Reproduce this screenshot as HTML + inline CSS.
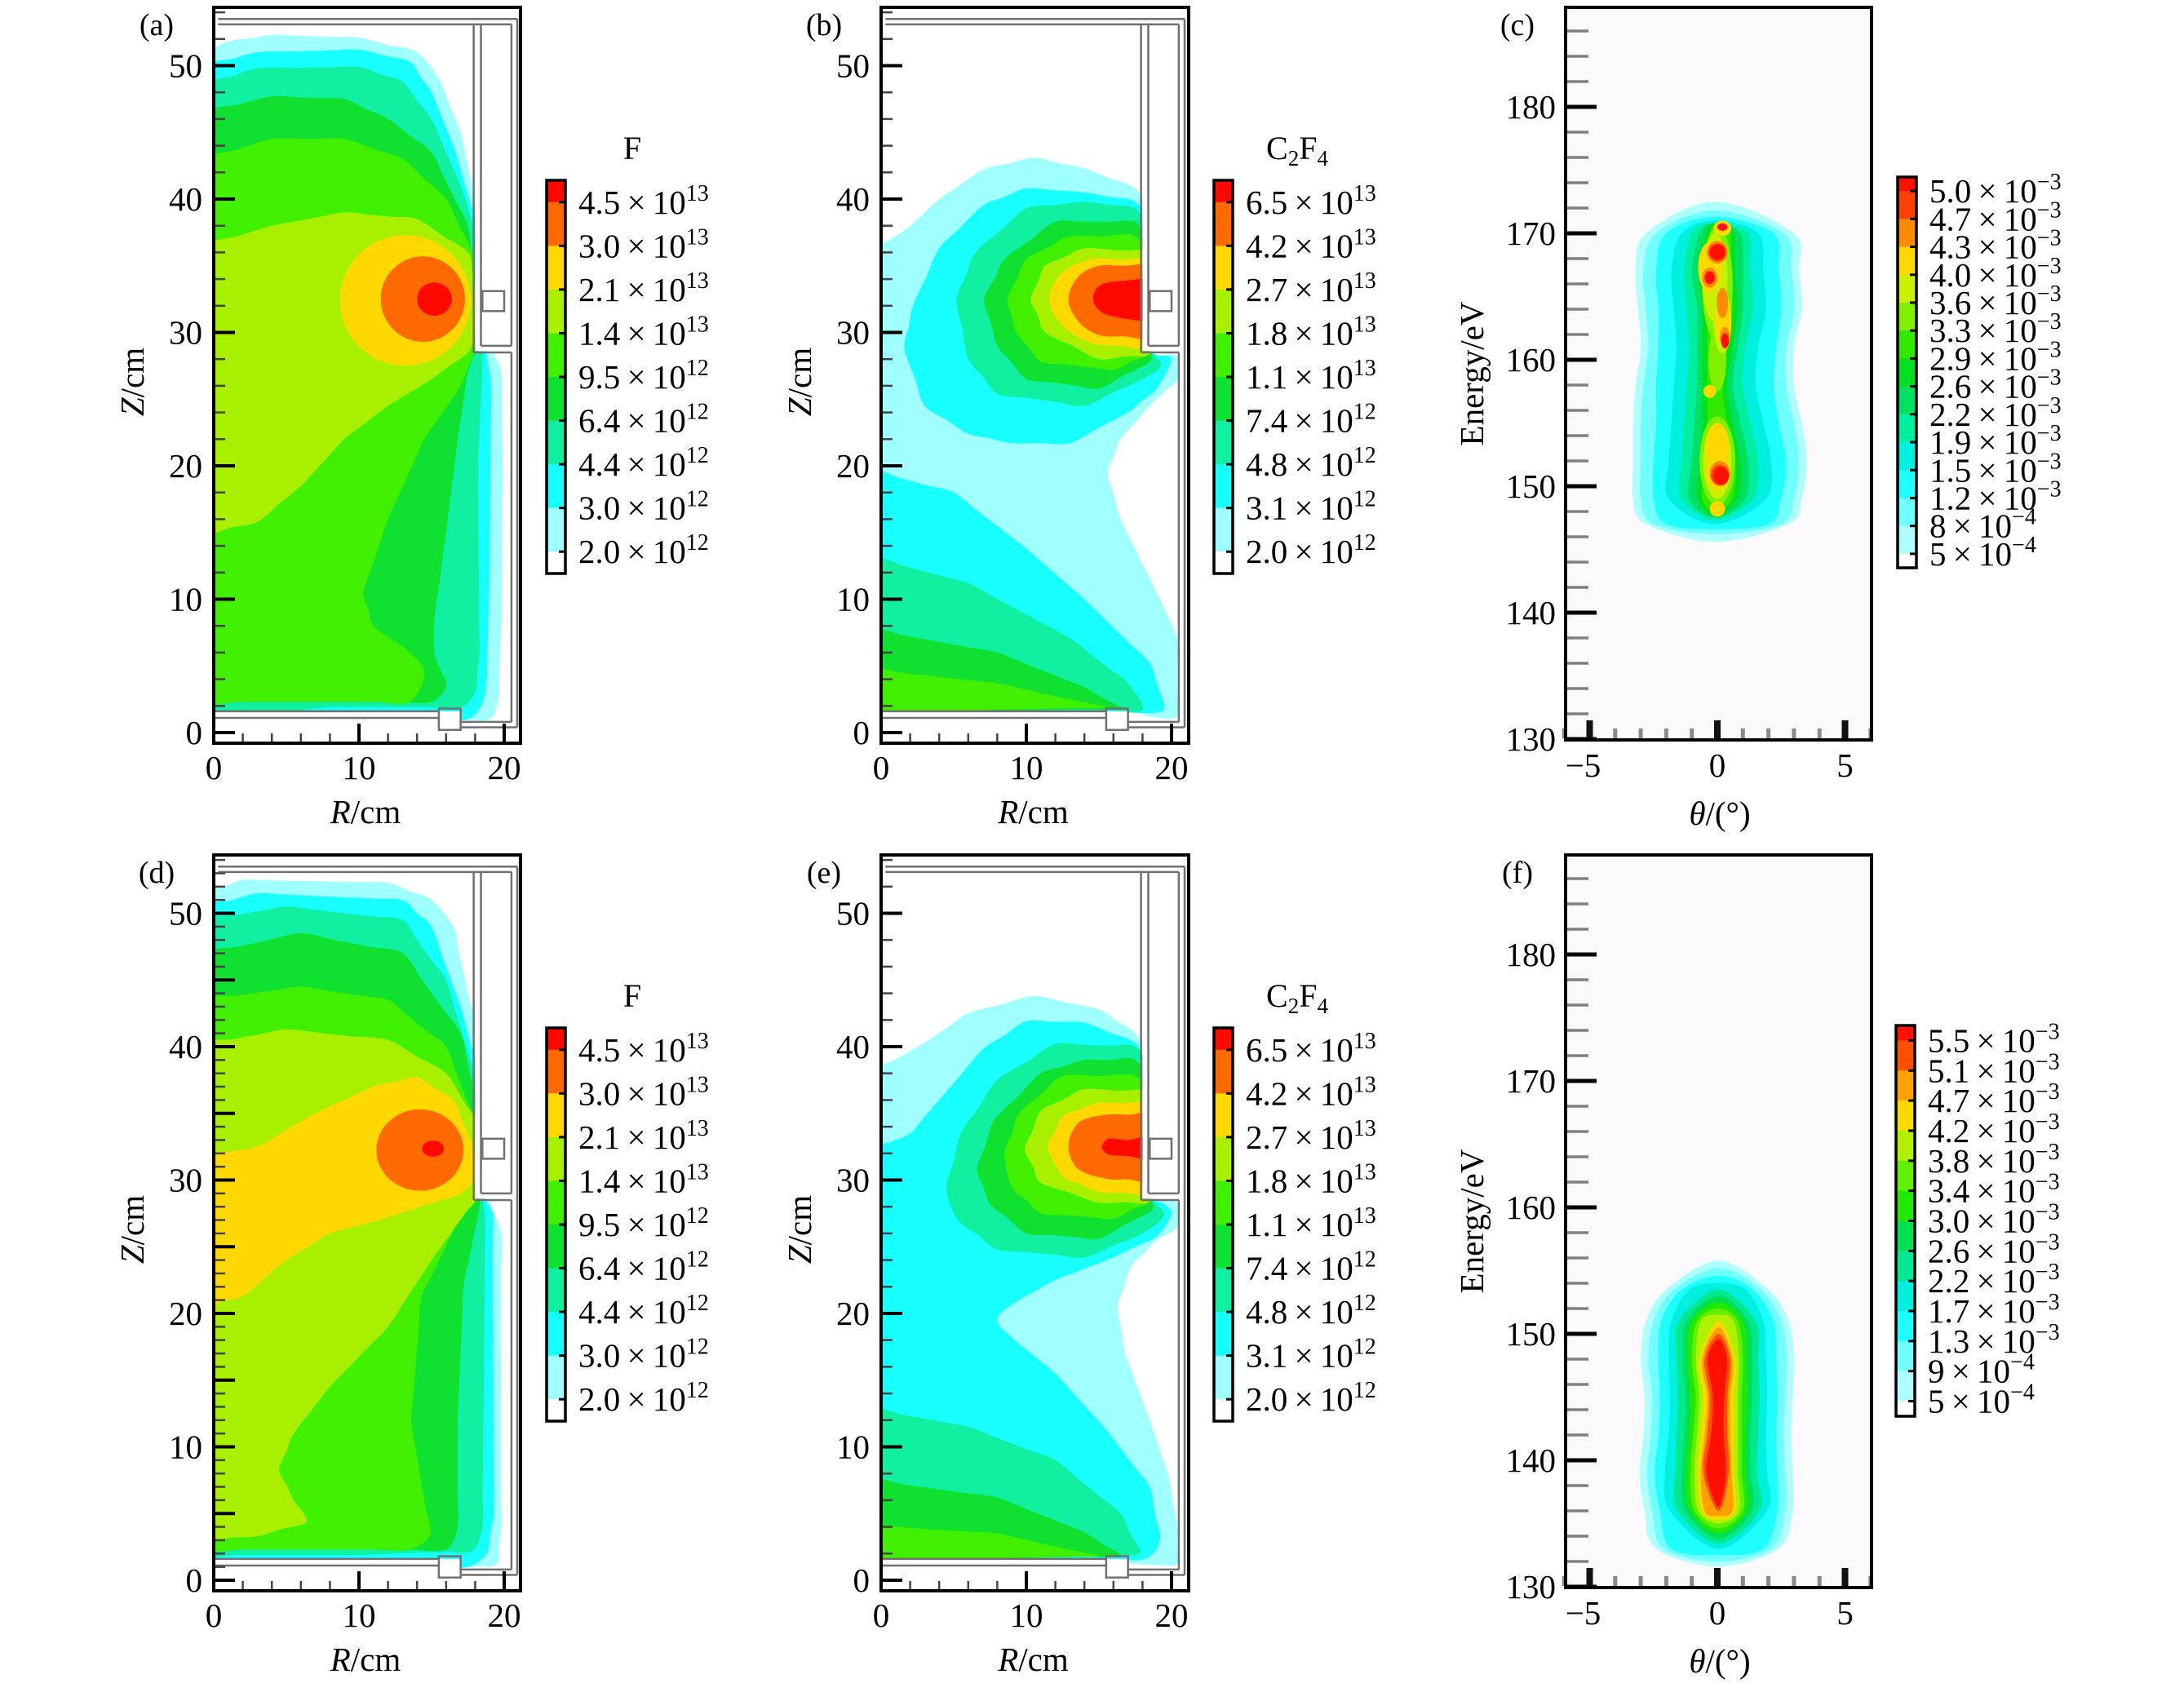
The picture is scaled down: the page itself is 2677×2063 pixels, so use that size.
<!DOCTYPE html>
<html><head><meta charset="utf-8">
<style>
html,body{margin:0;padding:0;background:#fff}
svg{display:block}
text{font-family:"Liberation Serif","DejaVu Serif",serif;fill:#000}
</style></head>
<body>
<svg id="fig" xmlns="http://www.w3.org/2000/svg" width="2677" height="2063" viewBox="0 0 2677 2063"></svg>
<script>
// ---------- DATA ----------
const PAL10 = ['#ffffff','#a0ffff','#18ffff','#10f0a0','#10e030','#40f000','#a8f000','#ffd800','#ff6a00','#ff0800'];
const fLabels = ['4.5','3.0','2.1','1.4','9.5','6.4','4.4','3.0','2.0'];
const fExps = ['13','13','13','13','12','12','12','12','12'];
const cfLabels = ['6.5','4.2','2.7','1.8','1.1','7.4','4.8','3.1','2.0'];
const cfExps = ['13','13','13','13','13','12','12','12','12'];
const PALC = ['#fcf9fc','#b0ffff','#70ffff','#20ffff','#00f0e0','#00eea0','#00e060','#00e020','#30e800','#80f000','#c8f000','#ffd800','#ff8c00','#ff4000','#ff1000'];
const cLabels = ['5.0','4.7','4.3','4.0','3.6','3.3','2.9','2.6','2.2','1.9','1.5','1.2','8','5'];
const cExps = ['−3','−3','−3','−3','−3','−3','−3','−3','−3','−3','−3','−3','−4','−4'];
const PALF = ['#fcf9fc','#b0ffff','#70ffff','#20ffff','#00f0e0','#00e890','#00e050','#20e800','#60f000','#b0f000','#ffd800','#ffa000','#ff5000','#ff1000'];
const fhLabels = ['5.5','5.1','4.7','4.2','3.8','3.4','3.0','2.6','2.2','1.7','1.3','9','5'];
const fhExps = ['−3','−3','−3','−3','−3','−3','−3','−3','−3','−3','−3','−4','−4'];

const zTicks = [0,10,20,30,40,50];
const rTicks = [0,10,20];
const eTicks = [130,140,150,160,170,180];
const tTicks = [-5,0,5];

// panel (a): F, condition 1  (R, Z) polygons
const aL1 = [[-0.5,1],[-0.5,50.8],[1,51.8],[4,52.3],[10,52.1],[14,51],[15.5,49],[17,45],[17.8,41],[18.5,38],[18.5,29],[19.3,28.3],[19.8,27],[19.9,20],[19.8,8],[19.6,2.5],[19,1],[17,1]];
const aL2 = [[-0.5,1],[-0.5,50],[3,51],[10,51.2],[13.5,50.3],[15,48],[16.5,44],[17.6,40],[18.5,37],[18.5,29],[18.8,28.2],[19.1,26],[19,12],[18.8,4],[18.5,2.2],[17.5,1]];
const aL3 = [[-0.5,1],[-0.5,48.6],[3,49.8],[10,49.9],[13,48.8],[15,46],[17,41],[18.5,36],[18.5,29],[18.5,27.5],[18.2,20],[18.3,6],[18,3],[17,1.9],[8,1.9]];
const aL4 = [[-0.5,2.3],[-0.5,46.5],[4,47.7],[9,47.5],[12,46],[15,43.5],[17.5,38],[18.5,30],[17.5,27],[16.8,22],[16,15],[15.2,8.5],[15.2,6],[16,3.5],[15,2.3]];
const aL5 = [[-0.5,2.3],[-0.5,43],[4,44.5],[9,44.5],[13,43],[16,40],[17.8,36],[18.5,30],[17,26],[14.5,22],[12,16],[10.3,10.5],[11,8],[13.5,6],[14.5,4.5],[13.5,2.3]];
const aL6 = [[-0.5,15],[3,15.8],[6,18.5],[9,22],[12,24.5],[15,26.5],[17.5,28.5],[18.5,31],[17.5,36],[14,38.5],[9,39],[4,38],[-0.5,36.5]];
const aE7 = [13.2,32.4,4.5,4.9];
const aE8 = [14.4,32.5,2.9,3.2];
const aE9 = [15.2,32.5,1.2,1.25];

// panel (b): C2F4, condition 1
const bL1 = [[-0.5,1.5],[-0.5,36.1],[2,38],[4,40],[7,42.2],[10.5,43.1],[14,42.3],[17.5,40.8],[18.5,39],[18.5,28.8],[19,28.3],[20.4,28.2],[20.4,26.5],[18.5,24.5],[16.5,22],[15.6,19.5],[16.5,16],[19.5,9.3],[20.4,7],[20.4,1.2],[18.5,1.2],[17.5,1.5]];
const bL2u = [[1.6,28.8],[2.2,32],[4,36.3],[7,39.5],[10,40.8],[14,40.5],[17.5,39.8],[18.5,38],[18.5,28.8],[19,28.3],[20,28],[19,25.8],[17,24],[13,21.7],[9,21.7],[6,22.4],[3,24.5]];
const bL2l = [[-0.5,1.5],[-0.5,19.6],[5,18],[10,13.8],[14,10],[18.5,5.2],[19.5,2],[19,1.5]];
const bL3u = [[5.2,32.5],[6.5,36],[10,39.3],[14,39.8],[17.5,39.3],[18.5,37],[18.5,28.8],[19.3,27.5],[18,26.5],[14,24.5],[8,25.4],[6,28]];
const bL3l = [[-0.5,1.5],[-0.5,13.1],[6,11.2],[13,7.1],[17,3.7],[18,1.7]];
const bL4u = [[7.1,32.5],[8.5,35.5],[12,38.3],[17.5,38.3],[18.5,36],[18.5,28.8],[18.5,27.8],[15,25.8],[10,26.5],[8,29]];
const bL4l = [[-0.5,1.5],[-0.5,7.7],[8,6],[14,3.4],[16.5,1.8]];
const bL5u = [[8.7,32.5],[10,35.5],[13,37.2],[17.5,37.2],[18.5,35],[18.5,28.5],[16,27.2],[11,27.8],[9.3,30]];
const bL5l = [[-0.5,1.5],[-0.5,4.7],[8,3.7],[15.5,1.9]];
const bL6 = [[10.3,32.5],[11.3,35],[14,36.3],[18.5,36],[18.5,28.4],[15,28],[11.3,30]];
const bL7 = [[11.6,32.5],[12.5,34.5],[14.5,35.5],[18.5,35.4],[18.5,28.8],[14.5,29.2],[12.5,30.5]];
const bL8 = [[12.9,32.5],[13.6,34.2],[15,35],[18.5,35],[18.5,29.6],[15,29.8],[13.6,30.8]];
const bL9 = [[14.6,32.6],[15.2,33.6],[17,33.9],[18.5,33.9],[18.5,31],[17,31],[15.2,31.5]];

// panel (d): F, condition 2
const dL1 = [[-0.5,1],[-0.5,51.5],[2,52.5],[12,52.3],[15,51],[16.5,49],[17.5,44],[18.5,40],[18.5,29],[19,28.3],[19.8,26],[19.8,4],[19.5,1.2],[18,1]];
const dL2 = [[-0.5,1],[-0.5,50.5],[3,51.5],[13,51],[15,49],[17,43],[18.5,37],[18.5,29],[19.2,27.5],[19.3,5],[18.8,2],[17.5,1]];
const dL3 = [[-0.5,1.9],[-0.5,49.5],[5,50.5],[13,49.5],[16,45],[18.5,36],[18.5,29],[18.7,27],[18.5,4],[17.8,2.2],[10,1.9]];
const dL4 = [[-0.5,2.3],[-0.5,47],[6,48.5],[13,47],[17,41],[18.5,34],[18.3,28],[17.2,22],[16.8,12],[16.8,4],[16,2.3]];
const dL5 = [[-0.5,2.3],[-0.5,43.5],[6,44.5],[12,43.5],[16,40],[18.5,33],[17.7,28.9],[14.3,21.2],[13.6,11.9],[14.9,3.4],[13.5,2.3]];
const dL6 = [[-0.5,3.1],[-0.5,40.2],[5,41.3],[12,40.5],[16,38],[18.3,34],[18.3,29],[15,24],[12,19],[8,14.5],[5.5,11],[4.5,8.3],[5.5,6],[6.4,4.4],[3,3.3]];
const dL7 = [[-0.5,20.6],[-0.5,31.8],[3,32.5],[7,35],[11,37],[14,37.7],[16.5,36],[17.7,33],[18.3,30.5],[17,29],[12,27.2],[8,26],[5,24],[2,21.3]];
const dE8 = [14.2,32.25,3.0,3.05];
const dE9 = [15.1,32.35,0.75,0.6];

// panel (e): C2F4, condition 2
const eL1 = [[-0.5,1.5],[-0.5,38.1],[3,40.3],[6,42.5],[10.5,43.8],[15,42.8],[17.5,41],[18.5,39],[18.5,28.8],[20.4,28.3],[20.4,26.5],[19,25.5],[17.2,23.5],[16.3,20.5],[16.8,17],[18.5,12],[19.8,7.8],[20.4,4],[20.4,1.2],[18,1.2]];
const eL2 = [[-0.5,1.5],[-0.5,32.3],[2,33.5],[4,36],[7,39.8],[10,41.9],[14,41.8],[17.5,40.3],[18.5,38],[18.5,28.8],[19.5,28.2],[20,27.4],[19,25.8],[16,24.2],[12,22.5],[9.5,21],[8,19.6],[9,18.2],[12,15.5],[15.5,11.3],[18.5,7],[19.2,3],[18.2,1.6]];
const eL3u = [[4.5,29.3],[5.5,33.5],[8,37.5],[12,40.2],[17.5,40],[18.5,38],[18.5,28.8],[19.5,27.4],[18,26],[14,24.2],[8,24.8],[5.3,27]];
const eL3l = [[-0.5,1.5],[-0.5,12.8],[6,11.5],[12,9],[16.5,5],[17.8,2]];
const eL4u = [[6.6,30.8],[7.8,34.5],[11,38],[14,39],[17.5,39],[18.5,37],[18.5,28.8],[18.7,27.8],[15,25.6],[10,26],[7.5,28.2]];
const eL4l = [[-0.5,1.5],[-0.5,7.5],[8,6.2],[14,3.6],[16.5,1.8]];
const eL5u = [[8.5,31.9],[9.5,35],[12.5,37.8],[17.5,37.8],[18.5,36],[18.5,28.5],[16,27.1],[11,27.5],[9,29.5]];
const eL5l = [[-0.5,1.5],[-0.5,4.1],[8,3.5],[15,1.8]];
const eL6 = [[9.9,32.3],[11,35.2],[14,36.8],[18.5,36.6],[18.5,28.4],[15,28.3],[11,29.8]];
const eL7 = [[11.5,32.5],[12.5,34.8],[15,35.8],[18.5,35.7],[18.5,29],[15,29.1],[12.5,30.3]];
const eL8 = [[12.9,32.5],[13.6,34.3],[15.5,34.9],[18.5,34.9],[18.5,30],[15.5,30.1],[13.6,30.8]];
const eL9 = [[15.2,32.5],[15.7,33.1],[17,33],[18.5,33.2],[18.5,31.6],[17,31.8],[15.7,31.9]];

// panel (c): energy-angle distribution, condition 1
const cE = [147,149,152,155,158,161,164,167,170];
const cC = [0,0,0.1,0,-0.1,0,0.1,0,0.1];
const cW1 = [2.8,3.3,3.4,3.3,3.1,3.0,3.2,3.2,2.9];
const cW2 = [2.5,3.0,3.1,3.0,2.8,2.7,2.9,2.9,2.5];
const cW3 = [2.0,2.5,2.6,2.4,2.3,2.3,2.4,2.4,2.1];
const cW4 = [1.5,1.9,2.0,1.8,1.6,1.6,1.8,1.8,1.5];
const cW5 = [1.0,1.4,1.5,1.3,1.1,1.1,1.3,1.3,1.1];
const cW6 = [0.7,1.1,1.1,0.9,0.7,0.8,0.9,1.0,0.8];
const cW7 = [0.5,0.8,0.8,0.6,0.5,0.6,0.7,0.7,0.55];
const cW8 = [0.35,0.6,0.6,0.4,0.3,0.4,0.5,0.5,0.4];
const cTop = [172.5,171.8,171.3,171.0,170.8,170.8,170.7,170.6];
const cBot = [145.6,146.2,146.6,147.0,147.3,147.5,147.7,148.0];
const cSpotT = [0,0,0,-0.1,0.2,0,-0.3,0.25,0,0.05,-0.3,0,0.2,0.2,-0.3,0,0.1,0.3,0,0.1,0,-0.3,0.2,0.3,0.15];
const cSpotE = [166,160,152,166.5,163,152,167.3,163,153,151,157.5,148.2,170.4,164.5,166.5,168.5,151,161.8,168.5,150.9,168.5,166.5,170.5,161.5,150.8];
const cSpotDT = [0.6,0.35,0.7,0.5,0.35,0.55,0.45,0.3,0.45,0.45,0.25,0.3,0.35,0.22,0.3,0.4,0.4,0.2,0.35,0.35,0.3,0.2,0.2,0.15,0.3];
const cSpotDE = [4.5,2.5,3.5,3.5,2.5,3,2,2,2,1.3,0.5,0.6,0.6,1.2,0.8,0.9,1.0,0.8,0.7,0.8,0.6,0.5,0.3,0.6,0.7];
const cSpotL = [9,9,9,10,10,10,11,11,11,11,11,11,11,12,12,12,12,12,13,13,14,14,14,14,14];

// panel (f): energy-angle distribution, condition 2
const fE = [133,136,139,142,145,148,151,153.5];
const fC = [0,0.05,-0.05,0,0.05,0,0,0];
const fW1 = [2.4,2.9,3.0,2.9,2.9,3.0,2.8,2.0];
const fW2 = [2.1,2.6,2.7,2.6,2.6,2.7,2.5,1.7];
const fW3 = [1.8,2.3,2.4,2.3,2.3,2.3,2.2,1.4];
const fW4 = [1.5,1.9,2.0,1.9,1.9,1.9,1.8,1.1];
const fW5 = [1.2,1.6,1.6,1.6,1.6,1.6,1.5,0.9];
const fW6 = [1.0,1.3,1.35,1.3,1.3,1.35,1.2,0.7];
const fW7 = [0.8,1.1,1.15,1.1,1.1,1.15,1.0,0.5];
const fW8 = [0.6,0.95,1.0,0.95,0.9,1.0,0.8,0.3];
const fW9 = [0.4,0.8,0.85,0.8,0.75,0.85,0.65,0.2];
const fW10 = [0.3,0.65,0.7,0.65,0.6,0.7,0.5,0.1];
const fW11 = [0.2,0.55,0.6,0.5,0.45,0.6,0.4,0.05];
const fW12 = [0.1,0.45,0.5,0.4,0.35,0.5,0.3,0.02];
const fW13 = [0.05,0.3,0.38,0.25,0.22,0.38,0.2,0.02];
const fTop = [155.8,155.2,154.6,154,153.5,153,152.5,152,151.5,151,150.5,150,149.6];
const fBot = [131.6,132,132.5,133,133.4,133.8,134.2,134.6,135,135.3,135.6,136,136.3];

// ---------- DRAWING ----------
const NS='http://www.w3.org/2000/svg';
const svg=document.getElementById('fig');
function mk(tag,attrs,parent){const e=document.createElementNS(NS,tag);for(const k in attrs)e.setAttribute(k,attrs[k]);parent.appendChild(e);return e;}
function densify(pts,maxLen){
  const out=[],n=pts.length;
  for(let i=0;i<n;i++){
    const a=pts[i],b=pts[(i+1)%n];
    const L=Math.hypot(b[0]-a[0],b[1]-a[1]);
    const k=Math.max(1,Math.ceil(L/maxLen));
    for(let j=0;j<k;j++)out.push([a[0]+(b[0]-a[0])*j/k,a[1]+(b[1]-a[1])*j/k]);
  }
  return out;
}
function smoothPath(pts){
  const n=pts.length;let d='M'+pts[0][0].toFixed(1)+','+pts[0][1].toFixed(1);
  for(let i=0;i<n;i++){
    const p0=pts[(i-1+n)%n],p1=pts[i],p2=pts[(i+1)%n],p3=pts[(i+2)%n];
    const c1=[p1[0]+(p2[0]-p0[0])/6,p1[1]+(p2[1]-p0[1])/6];
    const c2=[p2[0]-(p3[0]-p1[0])/6,p2[1]-(p3[1]-p1[1])/6];
    d+='C'+c1[0].toFixed(1)+','+c1[1].toFixed(1)+' '+c2[0].toFixed(1)+','+c2[1].toFixed(1)+' '+p2[0].toFixed(1)+','+p2[1].toFixed(1);
  }
  return d+'Z';
}

const PANELS = {
  a:{x0:262,y0:898,kx:17.8,ky:16.35,bx0:262,bx1:638,by0:9,by1:911},
  b:{x0:1080,y0:898,kx:17.8,ky:16.35,bx0:1080,bx1:1457,by0:9,by1:911},
  d:{x0:262,y0:1937,kx:17.8,ky:16.35,bx0:262,bx1:638,by0:1048,by1:1950},
  e:{x0:1080,y0:1937,kx:17.8,ky:16.35,bx0:1080,bx1:1457,by0:1048,by1:1950}
};
function sxf(P){return r=>P.x0+r*P.kx;}
function syf(P){return z=>P.y0-z*P.ky;}

function txt(parent,x,y,s,size,anchor){
  const t=mk('text',{x:x,y:y,'font-size':size,'text-anchor':anchor||'middle'},parent);
  t.textContent=s;return t;
}

function drawField(key,levels,ellipses,name){
  const P=PANELS[key],sx=sxf(P),sy=syf(P);
  const g=mk('g',{},svg);
  
  
  const clip=mk('clipPath',{id:'clip'+key},g);
  const plasma=[[0,1.6],[0,53.2],[18,53.2],[18,28.6],[20.5,28.6],[20.5,0.8],[17,0.8],[17,1.6]];
  mk('polygon',{points:plasma.map(p=>sx(p[0])+','+sy(p[1])).join(' ')},clip);
  const fg=mk('g',{'clip-path':'url(#clip'+key+')'},g);
  levels.forEach(lv=>{
    const pts=densify(lv[1],2.5).map(p=>[sx(p[0]),sy(p[1])]);
    const el=mk('path',{d:smoothPath(pts),fill:PAL10[lv[0]]},fg);
    
    
  });
  ellipses.forEach(e=>{
    const v=e[1];
    const el=mk('ellipse',{cx:sx(v[0]),cy:sy(v[1]),rx:v[2]*P.kx,ry:v[3]*P.ky,fill:PAL10[e[0]]},fg);
    
    
  });
  // walls
  const wg=mk('g',{stroke:'#707070','stroke-width':2.5,fill:'none'},g);
  
  
  const segs=[[0.3,53.5,20.9,53.5],[0.3,53.1,20.5,53.1],[20.9,53.5,20.9,0.4],[20.5,53.1,20.5,29.0],[20.5,28.5,20.5,0.8],
    [17.9,53.1,17.9,28.5],[18.4,53.1,18.4,29.0],[18.4,29.0,20.5,29.0],[17.9,28.5,20.5,28.5],
    [0,1.6,15.5,1.6],[0,1.1,15.5,1.1],[17,0.8,20.5,0.8],[17,0.4,20.9,0.4]];
  segs.forEach(s=>mk('line',{x1:sx(s[0]),y1:sy(s[1]),x2:sx(s[2]),y2:sy(s[3])},wg));
  mk('rect',{x:sx(18.5),y:sy(33.1),width:1.5*P.kx,height:1.5*P.ky},wg);
  mk('rect',{x:sx(15.5),y:sy(1.8),width:1.5*P.kx,height:1.6*P.ky},wg);
  // ticks
  const tg=mk('g',{stroke:'#000'},g);
  
  
  const minorStep = key==='d'?1:2;
  for(let z=0;z<=54;z+=minorStep){
    const major = key==='d' ? (z%5===0) : (z%10===0);
    mk('line',{x1:P.bx0,y1:sy(z),x2:P.bx0+(major?26:14),y2:sy(z),'stroke-width':major?4:2.5,stroke:major?'#000':'#444'},tg);
  }
  for(let r=0;r<=20;r+=2){
    const major=r%10===0;
    mk('line',{x1:sx(r),y1:P.by1,x2:sx(r),y2:P.by1-(major?24:12),'stroke-width':major?4:2.5,stroke:major?'#000':'#444'},tg);
  }
  const fr=mk('rect',{x:P.bx0,y:P.by0,width:P.bx1-P.bx0,height:P.by1-P.by0,fill:'none',stroke:'#000','stroke-width':4},g);
  
  
  zTicks.forEach(z=>{
    const t=txt(g,P.bx0-14,sy(z)+14,String(z),41,'end');
    
    
  });
  rTicks.forEach(r=>{
    const t=txt(g,sx(r),P.by1+44,String(r),41,'middle');
    
    
  });
  const xt=mk('text',{x:(P.bx0+P.bx1)/2-2,y:P.by1+98,'font-size':41,'text-anchor':'middle'},g);
  
  
  const xi=mk('tspan',{'font-style':'italic'},xt);xi.textContent='R';
  const xr=mk('tspan',{},xt);xr.textContent='/cm';
  const yc=(P.by0+P.by1)/2+8;
  const yt=mk('text',{x:P.bx0-100,y:yc,'font-size':41,'text-anchor':'middle',transform:'rotate(-90,'+(P.bx0-100)+','+yc+')'},g);
  
  
  const yi=mk('tspan',{'font-style':'italic',dy:14},yt);yi.textContent='Z';
  const yr=mk('tspan',{},yt);yr.textContent='/cm';
  return g;
}

function colorbar(x0,x1,T,B,colorsTop,labels,exps,fs,parent,name){
  const g=mk('g',{},parent);
  
  
  const n=colorsTop.length,u=(B-T)/(n-1);
  colorsTop.forEach((c,i)=>{
    const y0=i===0?T:T+u/2+(i-1)*u;
    const y1=i===n-1?B:T+u/2+i*u;
    const r=mk('rect',{x:x0,y:y0,width:x1-x0,height:y1-y0+0.5,fill:c},g);
    
    
  });
  mk('rect',{x:x0,y:T,width:x1-x0,height:B-T,fill:'none',stroke:'#000','stroke-width':3.5},g);
  labels.forEach((s,i)=>{
    const y=T+u/2+i*u;
    mk('line',{x1:x1-8,y1:y,x2:x1,y2:y,stroke:'#000','stroke-width':3},g);
    const t=mk('text',{x:x1+16,y:y+14,'font-size':fs,'text-anchor':'start'},g);
    
    
    const a=mk('tspan',{},t);a.textContent=s+'\u2009×\u200910';
    const b=mk('tspan',{dy:-16,'font-size':Math.round(fs*0.68)},t);b.textContent=exps[i];
  });
  return g;
}

const gA=drawField('a',[[1,aL1],[2,aL2],[3,aL3],[4,aL4],[5,aL5],[6,aL6]],[[7,aE7],[8,aE8],[9,aE9]],'panel-a-f-density');
const gB=drawField('b',[[1,bL1],[2,bL2u],[2,bL2l],[3,bL3u],[3,bL3l],[4,bL4u],[4,bL4l],[5,bL5u],[5,bL5l],[6,bL6],[7,bL7],[8,bL8],[9,bL9]],[],'panel-b-c2f4-density');
const gD=drawField('d',[[1,dL1],[2,dL2],[3,dL3],[4,dL4],[5,dL5],[6,dL6],[7,dL7]],[[8,dE8],[9,dE9]],'panel-d-f-density');
const gE=drawField('e',[[1,eL1],[2,eL2],[3,eL3u],[3,eL3l],[4,eL4u],[4,eL4l],[5,eL5u],[5,eL5l],[6,eL6],[7,eL7],[8,eL8],[9,eL9]],[],'panel-e-c2f4-density');

const PALTOP=PAL10.slice().reverse();
[[gA,670,0,'F'],[gB,1488,0,'C2F4'],[gD,670,1039,'F'],[gE,1488,1039,'C2F4']].forEach(o=>{
  const isF=o[3]==='F';
  colorbar(o[1],o[1]+23,221+o[2],703+o[2],PALTOP,isF?fLabels:cfLabels,isF?fExps:cfExps,41,o[0],'colorbar');
  const t=mk('text',{x:o[1]+(isF?105:102),y:195+o[2],'font-size':40,'text-anchor':'middle'},o[0]);
  
  
  if(isF){t.textContent='F';}
  else{
    const s1=mk('tspan',{},t);s1.textContent='C';
    const s2=mk('tspan',{dy:8,'font-size':27},t);s2.textContent='2';
    const s3=mk('tspan',{dy:-8},t);s3.textContent='F';
    const s4=mk('tspan',{dy:8,'font-size':27},t);s4.textContent='4';
  }
});

const HP = {
  c:{x0:2105,kx:31.3,y0:906,ky:15.5,bx0:1919,bx1:2294,by0:9,by1:907},
  f:{x0:2105,kx:31.3,y0:1945,ky:15.5,bx0:1919,bx1:2294,by0:1048,by1:1946}
};
function blob(Es,C,W,top,bot){
  const right=[],left=[];
  Es.forEach((e,i)=>{ if(e>bot+0.3 && e<top-0.3 && W[i]>0.03){right.push([C[i]+W[i],e]);left.push([C[i]-W[i],e]);} });
  const ci=C[Math.floor(C.length/2)];
  return [[ci,bot]].concat(right,[[ci,top]],left.reverse());
}
function drawHeat(key,pal,widths,tops,bots,Es,C,spots,name){
  const P=HP[key];
  const sx=t=>P.x0+t*P.kx, sy=e=>P.y0-(e-130)*P.ky;
  const g=mk('g',{},svg);
  
  
  const bg=mk('rect',{x:P.bx0,y:P.by0,width:P.bx1-P.bx0,height:P.by1-P.by0,fill:'#fcf9fc'},g);
  
  
  widths.forEach((W,i)=>{
    const pts=blob(Es,C,W,tops[i],bots[i]).map(p=>[sx(p[0]),sy(p[1])]);
    const el=mk('path',{d:smoothPath(pts),fill:pal[i+1]},g);
    
    
  });
  if(spots){
    spots.L.forEach((l,i)=>{
      const el=mk('ellipse',{cx:sx(spots.T[i]),cy:sy(spots.E[i]),rx:spots.DT[i]*P.kx,ry:spots.DE[i]*P.ky,fill:pal[l]},g);
      
      
    });
  }
  const tg=mk('g',{},g);
  
  
  for(let e=130;e<=186;e+=2){
    const major=e%10===0;
    mk('line',{x1:P.bx0,y1:sy(e),x2:P.bx0+(major?38:28),y2:sy(e),stroke:major?'#000':'#808080','stroke-width':major?5:3.5},tg);
  }
  for(let t=-6;t<=6;t++){
    const major=t%5===0;
    mk('line',{x1:sx(t),y1:P.by1-2,x2:sx(t),y2:P.by1-(major?24:14),stroke:major?'#111':'#8a8a8a','stroke-width':major?8:5},tg);
  }
  const fr=mk('rect',{x:P.bx0,y:P.by0,width:P.bx1-P.bx0,height:P.by1-P.by0,fill:'none',stroke:'#000','stroke-width':4},g);
  
  
  eTicks.forEach(e=>{
    const t=txt(g,P.bx0-12,sy(e)+14,String(e),41,'end');
    
    
  });
  tTicks.forEach(v=>{
    const t=txt(g,sx(v)+(v<0?-8:0),P.by1+45,(v<0?'−':'')+Math.abs(v),41,'middle');
    
    
  });
  const xt=mk('text',{x:2108,y:P.by1+104,'font-size':41,'text-anchor':'middle'},g);
  
  
  const a1=mk('tspan',{'font-style':'italic'},xt);a1.textContent='θ';
  const a2=mk('tspan',{},xt);a2.textContent='/(°)';
  const yc=(P.by0+P.by1)/2;
  const yt=mk('text',{x:1804,y:yc+14,'font-size':41,'text-anchor':'middle',transform:'rotate(-90,1804,'+yc+')'},g);
  
  
  yt.textContent='Energy/eV';
  return g;
}
const gC=drawHeat('c',PALC,[cW1,cW2,cW3,cW4,cW5,cW6,cW7,cW8],cTop,cBot,cE,cC,{T:cSpotT,E:cSpotE,DT:cSpotDT,DE:cSpotDE,L:cSpotL},'panel-c-energy-angle');
const gF=drawHeat('f',PALF,[fW1,fW2,fW3,fW4,fW5,fW6,fW7,fW8,fW9,fW10,fW11,fW12,fW13],fTop,fBot,fE,fC,null,'panel-f-energy-angle');
colorbar(2326,2349,217,696,PALC.slice().reverse().map((c,i,a)=>i===a.length-1?'#ffffff':c),cLabels,cExps,41,gC,'colorbar');
colorbar(2324,2347,1257,1736,PALF.slice().reverse().map((c,i,a)=>i===a.length-1?'#ffffff':c),fhLabels,fhExps,41,gF,'colorbar');

[['(a)',192,43],['(b)',1010,43],['(c)',1860,43],['(d)',192,1082],['(e)',1010,1082],['(f)',1860,1082]].forEach(p=>{
  const t=txt(svg,p[1],p[2],p[0],38,'middle');
  
  
});
</script>
</body></html>
